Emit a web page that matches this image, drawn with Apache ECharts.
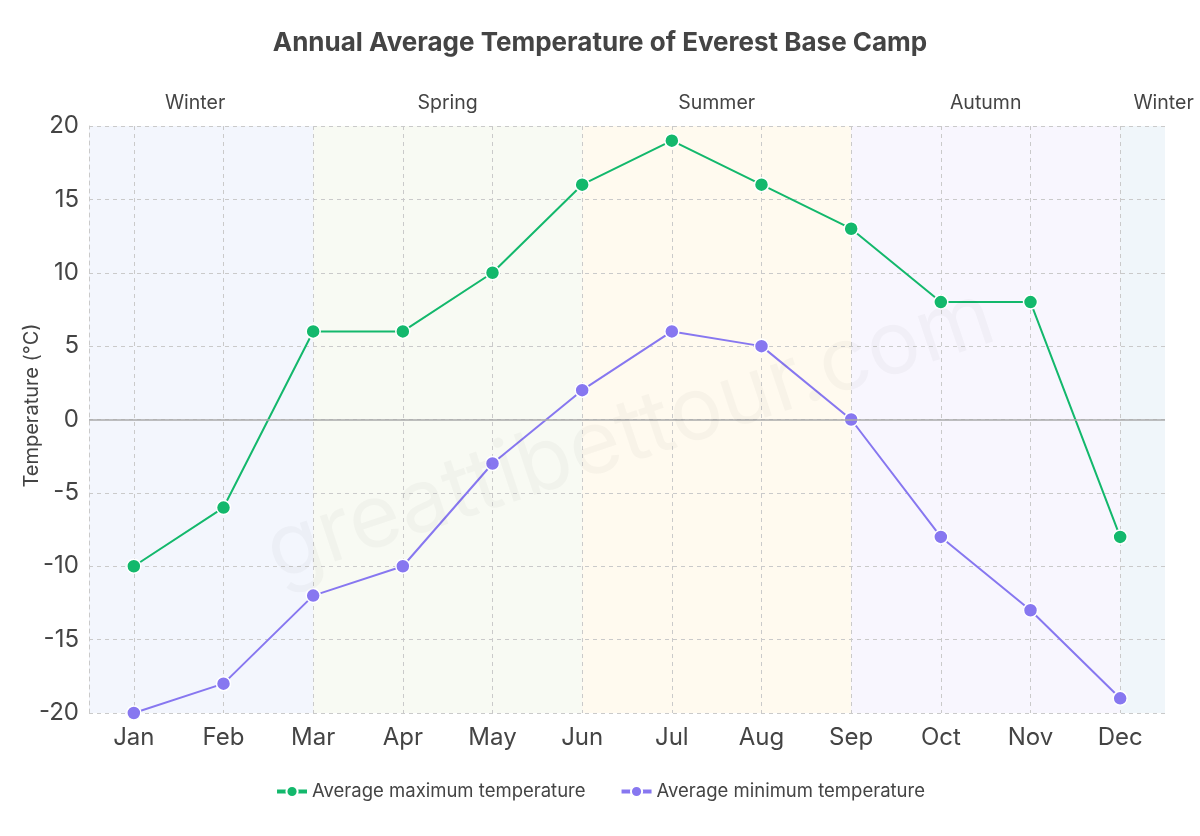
<!DOCTYPE html>
<html>
<head>
<meta charset="utf-8">
<script src="https://cdn.jsdelivr.net/npm/echarts@6/dist/echarts.min.js"></script>
<style>html,body{margin:0;padding:0;background:#fff}#c{width:1200px;height:836px}</style>
</head>
<body>
<div id="c"></div>
<script>
const months = ['Jan','Feb','Mar','Apr','May','Jun','Jul','Aug','Sep','Oct','Nov','Dec'];
const maxTemp = [-10, -6, 6, 6, 10, 16, 19, 16, 13, 8, 8, -8];
const minTemp = [-20, -18, -12, -10, -3, 2, 6, 5, 0, -8, -13, -19];
const yTicks = [-20, -15, -10, -5, 0, 5, 10, 15, 20];
// seasons in half-month units from the left edge of the plot (Jan centre = 1)
const seasons = [
  {name: 'Winter', from: 0, to: 5, color: '#f3f6fd'},
  {name: 'Spring', from: 5, to: 11, color: '#f8faf3'},
  {name: 'Summer', from: 11, to: 17, color: '#fffaef'},
  {name: 'Autumn', from: 17, to: 23, color: '#f8f6fe'},
  {name: 'Winter', from: 23, to: 24, color: '#f0f6fa'}
];

const chart = echarts.init(document.getElementById('c'));
const font = 'Inter, "Noto Sans", sans-serif';
const gridLine = {type: [4, 4], color: '#cacaca', width: 1};
chart.setOption({
  animation: false,
  textStyle: {fontFamily: font},
  title: {
    text: 'Annual Average Temperature of Everest Base Camp',
    left: 'center', top: 25,
    textStyle: {fontSize: 26, fontWeight: 'bold', color: '#444', fontFamily: font}
  },
  legend: {
    bottom: 30, left: 'center', itemWidth: 30, itemHeight: 14, itemGap: 34,
    lineStyle: {width: 4},
    textStyle: {fontSize: 18.5, color: '#444', fontFamily: font},
    data: ['Average maximum temperature', 'Average minimum temperature']
  },
  grid: {left: 89, right: 35, top: 126, bottom: 123},
  xAxis: [{
    type: 'category', data: months, boundaryGap: true, z: 1,
    axisLine: {show: false}, axisTick: {show: false},
    axisLabel: {fontSize: 24, color: '#444', margin: 13, fontFamily: font},
    splitLine: {show: true, alignWithLabel: true, lineStyle: gridLine}
  }, {
    type: 'value', min: 0, max: 24, show: false
  }],
  yAxis: {
    type: 'value', min: -20, max: 20, interval: 5, z: 1,
    name: 'Temperature (°C)', nameLocation: 'middle', nameGap: 47, nameMoveOverlap: false,
    nameTextStyle: {fontSize: 20, color: '#444', fontFamily: font, padding: [0, 0, 0, 28]},
    axisLine: {show: true, lineStyle: gridLine},
    axisTick: {show: false},
    axisLabel: {fontSize: 24, color: '#444', margin: 10, fontFamily: font,
      formatter: v => yTicks.includes(v) ? String(v) : ''},
    splitLine: {lineStyle: gridLine}
  },
  graphic: [{
    type: 'text', rotation: Math.PI * 18.5 / 180,
    x: 630, y: 435, silent: true, z: 100,
    style: {text: 'greattibettour.com', fontSize: 88, fontFamily: font, fill: 'rgba(0,0,0,0.028)', align: 'center', verticalAlign: 'middle'}
  }],
  series: [{
    type: 'line', xAxisIndex: 1, data: [], silent: true, z: 0,
    markArea: {
      silent: true, z: 0,
      data: seasons.map((s, i) => [{
        xAxis: s.from, name: s.name,
        itemStyle: {color: s.color},
        label: {offset: i === 0 ? [-6, 0] : (i === seasons.length - 1 ? [21, 0] : [0, 0])}
      }, {xAxis: s.to}]),
      label: {show: true, position: 'top', distance: 13, fontSize: 19.5, color: '#444', fontFamily: font}
    }
  }, {
    name: 'Average maximum temperature', type: 'line', data: maxTemp, z: 3,
    color: '#13b86c', symbol: 'circle', symbolSize: 14,
    lineStyle: {width: 2}, itemStyle: {borderColor: '#fff', borderWidth: 1.5},
    markLine: {
      silent: true, symbol: 'none', label: {show: false},
      lineStyle: {type: 'solid', color: '#aaa', width: 1.5},
      data: [{yAxis: 0}]
    }
  }, {
    name: 'Average minimum temperature', type: 'line', data: minTemp, z: 3,
    color: '#8777f0', symbol: 'circle', symbolSize: 14,
    lineStyle: {width: 2}, itemStyle: {borderColor: '#fff', borderWidth: 1.5}
  }]
});
</script>
</body>
</html>
